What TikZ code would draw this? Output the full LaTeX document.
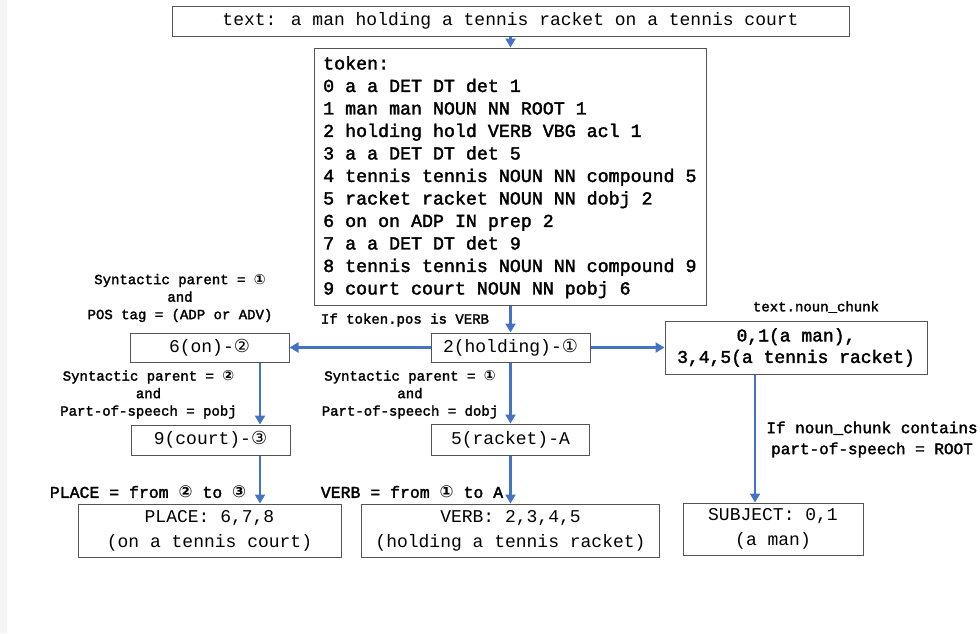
\documentclass[tikz,border=0pt]{standalone}
\usepackage{fontspec}
\setmainfont{Liberation Mono}[BoldFont={Liberation Mono}, BoldFeatures={FakeBold=2}]
\newfontfamily\circfont{DejaVu Sans}
\usetikzlibrary{arrows.meta,calc}
\newcommand\circnum[1]{{\circfont #1}}
\definecolor{flowblue}{HTML}{4472C4}
\definecolor{boxgray}{HTML}{555555}
\begin{document}
\begin{tikzpicture}[x=1pt,y=-1pt,
  box/.style={draw=boxgray, line width=1pt, inner sep=0pt, align=center,
    font=\fontsize{18}{25}\selectfont},
  boldbox/.style={box, font=\bfseries\fontsize{18}{21.5}\selectfont},
  arr/.style={draw=flowblue, line width=2.6pt, -{Triangle[length=9pt,width=10pt]}},
  lbl/.style={inner sep=0pt, align=center, font=\bfseries\fontsize{14}{17.5}\selectfont},
  biglbl/.style={lbl, font=\bfseries\fontsize{16}{21}\selectfont},
  reslbl/.style={lbl, font=\bfseries\fontsize{16.5}{20}\selectfont}]
\useasboundingbox (0,0) rectangle (980,633);
\fill[black!4] (0,0) rectangle (7,633);

% input sentence and token table
\node[box, minimum width=677pt, minimum height=30pt] (text) at (510.5,21)
  {text: a man holding a tennis racket on a tennis court};
\node[box, minimum width=392pt, minimum height=257pt] (tok) at (510.5,176.5) {};
\node[inner sep=0pt, anchor=north west, align=left,
  font=\bfseries\fontsize{18.3}{22.5}\selectfont] (toklines) at (323,56)
  {token:\\
   0 a a DET DT det 1\\
   1 man man NOUN NN ROOT 1\\
   2 holding hold VERB VBG acl 1\\
   3 a a DET DT det 5\\
   4 tennis tennis NOUN NN compound 5\\
   5 racket racket NOUN NN dobj 2\\
   6 on on ADP IN prep 2\\
   7 a a DET DT det 9\\
   8 tennis tennis NOUN NN compound 9\\
   9 court court NOUN NN pobj 6};

% intermediate tokens
\node[box, minimum width=159pt, minimum height=29pt] (hold) at (510.5,347.5)
  {2(holding)-\circnum{①}};
\node[box, minimum width=159pt, minimum height=29pt] (on) at (209.5,347.5)
  {6(on)-\circnum{②}};
\node[box, minimum width=159pt, minimum height=30pt] (court) at (210.5,440)
  {9(court)-\circnum{③}};
\node[box, minimum width=158pt, minimum height=31pt] (racket) at (510.5,439.5)
  {5(racket)-A};
\node[boldbox, minimum width=262pt, minimum height=53pt] (chunk) at (796,347.5)
  {0,1(a man),\\3,4,5(a tennis racket)};

% results
\node[box, minimum width=263pt, minimum height=53pt] (place) at (209.5,530.5)
  {PLACE: 6,7,8\\(on a tennis court)};
\node[box, minimum width=298pt, minimum height=53pt] (verb) at (510.5,530.5)
  {VERB: 2,3,4,5\\(holding a tennis racket)};
\node[box, minimum width=180pt, minimum height=52pt] (subj) at (773,529)
  {SUBJECT: 0,1\\(a man)};

% rule labels
\node[lbl] (l1) at (180,298)
  {Syntactic parent = \circnum{①}\\and\\POS tag = (ADP or ADV)};
\node[lbl] (l2) at (148.5,394.5)
  {Syntactic parent = \circnum{②}\\and\\Part-of-speech = pobj};
\node[lbl] (l3) at (410,394.5)
  {Syntactic parent = \circnum{①}\\and\\Part-of-speech = dobj};
\node[lbl] (l4) at (405,320) {If token.pos is VERB};
\node[lbl] (l5) at (816,307) {text.noun\_chunk};
\node[biglbl] (l6) at (872,439.5)
  {If noun\_chunk contains\\part-of-speech = ROOT};
\node[reslbl] (l7) at (148,492)
  {PLACE = from \circnum{②} to \circnum{③}};
\node[reslbl] (l8) at (412,492)
  {VERB = from \circnum{①} to A};

% connectors
\coordinate (px) at (260,0);
\coordinate (sx) at (755,0);
\draw[arr] (text.south) -- (tok.north);
\draw[arr] (tok.south) -- (hold.north);
\draw[arr] (hold.west) -- (on.east);
\draw[arr] (hold.east) -- (chunk.west |- hold.east);
\draw[arr] (on.south -| px) -- (court.north -| px);
\draw[arr] (court.south -| px) -- (place.north -| px);
\draw[arr] (hold.south) -- (racket.north);
\draw[arr] (racket.south) -- (verb.north);
\draw[arr] (chunk.south -| sx) -- (subj.north -| sx);
\end{tikzpicture}
\end{document}
